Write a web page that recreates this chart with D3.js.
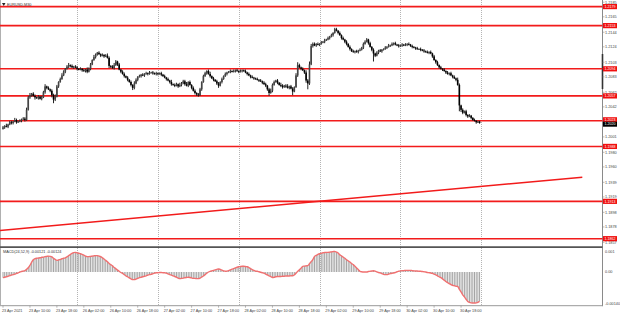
<!DOCTYPE html>
<html><head><meta charset="utf-8">
<script src="https://cdn.jsdelivr.net/npm/d3@7"></script>
<style>body{margin:0;background:#fff}svg{display:block}text{font-family:"Liberation Sans",Arial,sans-serif}</style>
</head><body>
<svg id="c" width="620" height="316"></svg>
<script>
const symbolLabel = "EURUSD,M30";
const macdTitle = "MACD(24,52,9) -0.00121 -0.00124";
const firstOpen = 1.2012;
const closes = [
1.2014,1.2016,1.2015,1.2018,1.2021,1.2020,1.2022,1.2024,1.2021,1.2022,1.2023,1.2025,
1.2026,1.2024,1.2038,1.2055,1.2058,1.2060,1.2057,1.2055,1.2054,1.2056,1.2053,1.2055,
1.2062,1.2070,1.2068,1.2066,1.2064,1.2058,1.2052,1.2056,1.2070,1.2076,1.2080,1.2085,
1.2090,1.2094,1.2097,1.2099,1.2098,1.2096,1.2097,1.2096,1.2094,1.2093,1.2094,1.2092,
1.2091,1.2093,1.2090,1.2094,1.2100,1.2106,1.2110,1.2113,1.2116,1.2114,1.2112,1.2113,
1.2111,1.2112,1.2109,1.2098,1.2097,1.2095,1.2099,1.2104,1.2100,1.2093,1.2090,1.2087,
1.2084,1.2082,1.2079,1.2076,1.2072,1.2068,1.2074,1.2079,1.2083,1.2084,1.2086,1.2085,
1.2087,1.2088,1.2087,1.2089,1.2089,1.2088,1.2087,1.2088,1.2087,1.2088,1.2086,1.2084,
1.2082,1.2080,1.2078,1.2076,1.2073,1.2072,1.2071,1.2073,1.2070,1.2072,1.2074,1.2077,
1.2073,1.2071,1.2076,1.2072,1.2068,1.2064,1.2061,1.2059,1.2058,1.2066,1.2076,1.2084,
1.2088,1.2091,1.2087,1.2084,1.2081,1.2079,1.2077,1.2074,1.2071,1.2076,1.2080,1.2084,
1.2087,1.2089,1.2090,1.2091,1.2090,1.2091,1.2092,1.2091,1.2090,1.2091,1.2092,1.2091,
1.2089,1.2087,1.2085,1.2083,1.2082,1.2081,1.2080,1.2079,1.2078,1.2077,1.2075,1.2073,
1.2071,1.2066,1.2061,1.2064,1.2072,1.2076,1.2078,1.2075,1.2072,1.2071,1.2069,1.2071,
1.2070,1.2068,1.2070,1.2067,1.2063,1.2069,1.2085,1.2099,1.2096,1.2094,1.2092,1.2089,
1.2078,1.2074,1.2100,1.2125,1.2128,1.2126,1.2128,1.2127,1.2128,1.2130,1.2131,1.2133,
1.2134,1.2136,1.2138,1.2140,1.2143,1.2148,1.2146,1.2143,1.2140,1.2136,1.2134,1.2131,
1.2128,1.2124,1.2121,1.2118,1.2117,1.2118,1.2117,1.2119,1.2120,1.2123,1.2128,1.2131,
1.2134,1.2129,1.2124,1.2120,1.2115,1.2112,1.2116,1.2119,1.2118,1.2120,1.2121,1.2123,
1.2124,1.2126,1.2126,1.2128,1.2129,1.2127,1.2126,1.2125,1.2126,1.2127,1.2126,1.2127,
1.2128,1.2127,1.2125,1.2124,1.2123,1.2122,1.2121,1.2121,1.2120,1.2119,1.2118,1.2117,
1.2116,1.2117,1.2115,1.2111,1.2106,1.2103,1.2099,1.2096,1.2094,1.2093,1.2091,1.2089,
1.2087,1.2088,1.2085,1.2083,1.2081,1.2079,1.2072,1.2044,1.2038,1.2034,1.2036,1.2031,
1.2029,1.2030,1.2027,1.2024,1.2023,1.2021,1.2022,1.2020];
const wickUpPips = [
2,1,3,1,2,2,1,3,2,1,2,1, 2,2,3,2,3,1,2,2,1,2,1,2, 2,3,1,2,1,2,2,3,2,1,2,3,
2,1,2,3,1,2,1,2,2,1,2,1, 2,1,3,2,2,1,3,2,1,2,1,2, 1,2,3,2,1,2,3,2,1,2,1,2,
2,1,2,1,2,1,3,2,1,2,1,2, 1,2,1,2,1,2,1,2,1,1,2,1, 2,1,2,1,3,1,2,2,1,3,2,2,
2,3,1,2,1,2,2,1,2,2,1,2, 2,1,2,3,1,2,1,2,2,1,2,1, 2,1,1,2,1,2,1,2,1,2,1,1,
2,1,2,1,2,1,1,2,1,2,1,2, 2,1,2,3,2,2,1,2,1,3,2,1, 2,3,1,2,2,1,3,4,2,1,2,1,
3,2,4,3,2,2,1,2,1,2,1,2, 1,2,1,2,1,2,2,1,2,1,2,1, 2,1,2,1,2,1,2,1,2,1,2,2,
2,1,2,1,2,1,2,1,2,1,1,2, 1,2,1,2,1,2,1,2,1,2,1,2, 1,2,1,2,1,1,2,1,2,1,2,1,
2,1,2,1,2,1,2,1,2,1,2,1, 2,1,2,1,2,1,3,2,1,2,1,2, 1,2,1,1,2,1,1,1];
const wickDnPips = [
1,2,1,2,1,2,2,1,2,1,1,2, 1,2,1,1,2,2,1,3,1,2,1,2, 1,2,2,1,2,3,5,2,1,2,1,1,
1,2,1,2,2,1,2,1,2,1,1,2, 1,2,2,1,2,1,1,2,1,1,2,1, 2,1,1,3,2,1,2,1,2,1,2,1,
2,1,2,1,2,3,2,1,2,1,2,1, 2,1,2,1,1,2,1,2,2,1,2,1, 1,2,1,2,2,1,2,1,2,1,2,1,
2,1,2,1,2,1,2,2,2,1,2,1, 1,2,1,2,1,2,1,2,3,1,2,1, 1,2,1,2,1,1,2,1,2,1,2,1,
1,2,1,2,1,2,1,1,2,1,2,1, 2,2,4,1,2,1,1,2,1,2,2,1, 2,1,2,1,5,1,1,2,1,2,1,2,
3,8,2,1,2,1,2,1,2,1,1,2, 1,1,2,1,2,1,1,2,1,2,1,2, 2,1,2,1,1,2,1,2,1,1,2,1,
1,2,1,2,11,2,1,2,1,2,1,1, 2,1,2,1,2,1,1,2,1,2,1,1, 2,1,1,2,1,2,1,1,2,1,2,1,
1,2,1,2,1,2,1,2,1,2,1,2, 1,2,1,2,1,2,1,8,3,2,1,2, 2,1,2,1,1,2,1,1];
const macd = [
-0.00024,-0.00022,-0.00020,-0.00018,-0.00015,-0.00013,-0.00011,-0.00009,-0.00006,-0.00004,0.00000,0.00002,
0.00004,0.00006,0.00011,0.00018,0.00028,0.00041,0.00052,0.00056,0.00058,0.00059,0.00060,0.00062,
0.00063,0.00065,0.00066,0.00067,0.00066,0.00064,0.00058,0.00053,0.00049,0.00051,0.00053,0.00056,
0.00058,0.00060,0.00064,0.00069,0.00074,0.00079,0.00082,0.00083,0.00081,0.00079,0.00077,0.00074,
0.00071,0.00067,0.00065,0.00065,0.00066,0.00067,0.00068,0.00069,0.00069,0.00067,0.00065,0.00060,
0.00055,0.00049,0.00043,0.00036,0.00031,0.00026,0.00019,0.00014,0.00008,0.00003,-0.00002,-0.00006,
-0.00011,-0.00016,-0.00020,-0.00025,-0.00029,-0.00032,-0.00032,-0.00030,-0.00027,-0.00024,-0.00022,-0.00020,
-0.00018,-0.00016,-0.00013,-0.00011,-0.00010,-0.00007,-0.00005,-0.00003,-0.00003,-0.00002,-0.00002,-0.00003,
-0.00003,-0.00005,-0.00008,-0.00011,-0.00013,-0.00016,-0.00019,-0.00022,-0.00026,-0.00028,-0.00027,-0.00026,
-0.00024,-0.00023,-0.00022,-0.00023,-0.00025,-0.00027,-0.00027,-0.00028,-0.00028,-0.00026,-0.00021,-0.00017,
-0.00011,-0.00005,0.00000,0.00003,0.00005,0.00007,0.00009,0.00011,0.00013,0.00011,0.00008,0.00005,
0.00003,0.00004,0.00006,0.00009,0.00012,0.00014,0.00017,0.00020,0.00022,0.00023,0.00024,0.00024,
0.00023,0.00022,0.00019,0.00014,0.00010,0.00007,0.00004,0.00003,0.00001,-0.00001,-0.00003,-0.00005,
-0.00009,-0.00012,-0.00016,-0.00019,-0.00023,-0.00022,-0.00020,-0.00019,-0.00019,-0.00019,-0.00018,-0.00018,
-0.00017,-0.00017,-0.00017,-0.00016,-0.00016,-0.00012,-0.00005,0.00003,0.00009,0.00016,0.00024,0.00025,
0.00026,0.00027,0.00035,0.00044,0.00052,0.00066,0.00070,0.00074,0.00077,0.00079,0.00081,0.00082,
0.00083,0.00083,0.00084,0.00085,0.00086,0.00087,0.00084,0.00080,0.00073,0.00068,0.00063,0.00058,
0.00052,0.00047,0.00042,0.00036,0.00031,0.00024,0.00017,0.00010,0.00003,0.00001,0.00000,0.00000,
0.00000,0.00002,0.00003,0.00004,0.00005,0.00004,0.00001,-0.00002,-0.00004,-0.00007,-0.00010,-0.00011,
-0.00011,-0.00009,-0.00007,-0.00005,-0.00004,-0.00002,0.00001,0.00003,0.00005,0.00006,0.00006,0.00007,
0.00007,0.00007,0.00007,0.00006,0.00005,0.00004,0.00004,0.00003,0.00003,0.00002,0.00001,0.00000,
-0.00002,-0.00003,-0.00004,-0.00006,-0.00009,-0.00012,-0.00016,-0.00020,-0.00024,-0.00029,-0.00035,-0.00040,
-0.00045,-0.00049,-0.00053,-0.00056,-0.00058,-0.00060,-0.00061,-0.00073,-0.00084,-0.00096,-0.00105,-0.00115,
-0.00124,-0.00128,-0.00130,-0.00131,-0.00131,-0.00130,-0.00128,-0.00124];
const levels = [1.2179, 1.2153, 1.2094, 1.2057, 1.2023, 1.1988, 1.1913, 1.1862];
const currentPrice = 1.2020;
const trendPoints = [{bar: -2, price: 1.1873}, {bar: 344, price: 1.1946}];
const priceTicks = [1.2185,1.2165,1.2144,1.2124,1.2103,1.2083,1.2062,1.2042,1.2001,1.1980,1.1960,1.1939,1.1919,1.1898,1.1878,1.1857];
const macdTicks = [0.001, 0, -0.0014];
const macdTickLabels = ["0.001", "0.00", "-0.00140"];
const timeLabels = ["23 Apr 2021","23 Apr 10:00","23 Apr 18:00","26 Apr 02:00","26 Apr 10:00","26 Apr 18:00","27 Apr 02:00","27 Apr 10:00","27 Apr 18:00","28 Apr 02:00","28 Apr 10:00","28 Apr 18:00","29 Apr 02:00","29 Apr 10:00","29 Apr 18:00","30 Apr 02:00","30 Apr 10:00","30 Apr 18:00"];
const timeLabelBars = [0,16,32,48,64,80,96,112,128,144,160,176,192,208,224,240,256,272];
const daySeparatorBars = [44,92,140,188,236,284];

// ---- layout
const W = 620, AX = 602.5;
const MAIN_TOP = 0, MAIN_BOT = 246;
const MACD_TOP = 248.3, MACD_BOT = 305.2;
const RED = "#f21b1b";

const bars = closes.map((c, i) => {
  const o = i === 0 ? firstOpen : closes[i - 1];
  return {i, o, c, h: Math.max(o, c) + wickUpPips[i] * 0.0001, l: Math.min(o, c) - wickDnPips[i] * 0.0001, m: macd[i]};
});

const x = d3.scaleLinear().domain([0, 356]).range([3, 3 + 356 * 1.684]);
const y = d3.scaleLinear().domain([1.1852, 1.2188]).range([MAIN_BOT, MAIN_TOP]);
const ym = d3.scaleLinear().domain([-0.0014, 0.001]).range([MACD_BOT, MACD_TOP]);

const svg = d3.select("#c");
svg.append("rect").attr("width", W).attr("height", 316).attr("fill", "#fff");

// day separators (dotted)
svg.append("g").selectAll("line").data(daySeparatorBars).join("line")
  .attr("x1", d => Math.round(x(d)) + 0.5).attr("x2", d => Math.round(x(d)) + 0.5)
  .attr("y1", 0).attr("y2", MACD_BOT)
  .attr("stroke", "#b4b4b4").attr("stroke-width", 1).attr("stroke-dasharray", "1,1");

// frame lines
svg.append("line").attr("x1", 0.5).attr("x2", 0.5).attr("y1", 0).attr("y2", MACD_BOT).attr("stroke", "#b0b0b0");
svg.append("line").attr("x1", AX).attr("x2", AX).attr("y1", 0).attr("y2", MACD_BOT + 1).attr("stroke", "#8a8a8a");
svg.append("line").attr("x1", AX).attr("x2", AX).attr("y1", 54).attr("y2", 89).attr("stroke", "#333").attr("stroke-width", 1.6);
svg.append("line").attr("x1", 0).attr("x2", AX).attr("y1", 247.2).attr("y2", 247.2).attr("stroke", "#555").attr("stroke-width", 1.8);
svg.append("line").attr("x1", 0).attr("x2", AX).attr("y1", MACD_BOT + 0.5).attr("y2", MACD_BOT + 0.5).attr("stroke", "#999");

// horizontal levels
svg.append("g").selectAll("line").data(levels).join("line")
  .attr("x1", 0).attr("x2", AX).attr("y1", d => y(d)).attr("y2", d => y(d))
  .attr("stroke", RED).attr("stroke-width", 1.6);

// trend line
svg.append("line")
  .attr("x1", x(trendPoints[0].bar)).attr("y1", y(trendPoints[0].price))
  .attr("x2", x(trendPoints[1].bar)).attr("y2", y(trendPoints[1].price))
  .attr("stroke", RED).attr("stroke-width", 1.5);

// candles
const cg = svg.append("g");
cg.selectAll("line").data(bars).join("line")
  .attr("x1", d => x(d.i)).attr("x2", d => x(d.i))
  .attr("y1", d => y(d.h)).attr("y2", d => y(d.l))
  .attr("stroke", "#222").attr("stroke-width", 1);
cg.selectAll("rect").data(bars).join("rect")
  .attr("x", d => x(d.i) - 0.8).attr("width", 1.6)
  .attr("y", d => y(Math.max(d.o, d.c)))
  .attr("height", d => Math.max(0.9, Math.abs(y(d.o) - y(d.c))))
  .attr("fill", d => d.c >= d.o ? "#444" : "#000");

// MACD histogram
svg.append("g").selectAll("line").data(bars).join("line")
  .attr("x1", d => x(d.i)).attr("x2", d => x(d.i))
  .attr("y1", ym(0)).attr("y2", d => ym(d.m))
  .attr("stroke", "#a4a4a4").attr("stroke-width", 1);
svg.append("path").datum(bars)
  .attr("d", d3.line().x(d => x(d.i)).y(d => ym(d.m)).curve(d3.curveMonotoneX))
  .attr("fill", "none").attr("stroke", "#f07070").attr("stroke-width", 1.4);

// price axis labels
const fs = 3.8;
svg.append("g").selectAll("text").data(priceTicks).join("text")
  .attr("x", 605).attr("y", d => y(d)).attr("dy", "0.35em")
  .attr("font-size", fs).attr("fill", "#444").text(d => d.toFixed(4));
svg.append("g").selectAll("line").data(priceTicks).join("line")
  .attr("x1", AX).attr("x2", AX + 2).attr("y1", d => y(d)).attr("y2", d => y(d)).attr("stroke", "#888").attr("stroke-width", 0.6);

// level boxes (a box near the current-price box is nudged away from it)
const cpY = y(currentPrice);
const boxY = d => {
  const v = y(d);
  return Math.abs(v - cpY) < 4.5 ? (v < cpY ? v - 1 : v + 1) : v;
};
const cpBoxY = levels.some(d => Math.abs(y(d) - cpY) < 4.5 && y(d) < cpY) ? cpY + 1.1 : cpY;
const lb = svg.append("g").selectAll("g").data(levels).join("g")
  .attr("transform", d => `translate(603,${boxY(d)})`);
lb.append("rect").attr("x", 0).attr("y", -2.6).attr("width", 14).attr("height", 5.2).attr("fill", "#f01010");
lb.append("text").attr("x", 7).attr("dy", "0.35em").attr("text-anchor", "middle")
  .attr("font-size", 3.6).attr("fill", "#fff").text(d => d.toFixed(4));
const cp = svg.append("g").attr("transform", `translate(603,${cpBoxY})`);
cp.append("rect").attr("x", 0).attr("y", -2.4).attr("width", 14).attr("height", 5).attr("fill", "#000");
cp.append("text").attr("x", 7).attr("dy", "0.35em").attr("text-anchor", "middle")
  .attr("font-size", 3.6).attr("fill", "#fff").text(currentPrice.toFixed(4));

// MACD axis labels
svg.append("g").selectAll("text").data(macdTicks).join("text")
  .attr("x", 605).attr("y", (d, i) => ym(d) + (i === 0 ? 3 : i === 2 ? -1.5 : 0)).attr("dy", "0.35em")
  .attr("font-size", fs).attr("fill", "#444").text((d, i) => macdTickLabels[i]);

// time labels
svg.append("g").selectAll("text").data(timeLabelBars).join("text")
  .attr("x", d => x(d) - 1).attr("y", 311).attr("dy", "0.35em")
  .attr("font-size", fs).attr("fill", "#444").text((d, i) => timeLabels[i]);
svg.append("g").selectAll("line").data(timeLabelBars).join("line")
  .attr("x1", d => x(d)).attr("x2", d => x(d)).attr("y1", MACD_BOT + 0.5).attr("y2", MACD_BOT + 2.5)
  .attr("stroke", "#888").attr("stroke-width", 0.6);

// titles
svg.append("path").attr("d", "M2,3 L5.5,3 L3.75,6 Z").attr("fill", "#222");
svg.append("text").attr("x", 7).attr("y", 4.6).attr("dy", "0.35em").attr("font-size", fs).attr("fill", "#333").text(symbolLabel);
svg.append("text").attr("x", 3).attr("y", 252).attr("dy", "0.35em").attr("font-size", fs).attr("fill", "#333").text(macdTitle);
</script>
</body></html>
